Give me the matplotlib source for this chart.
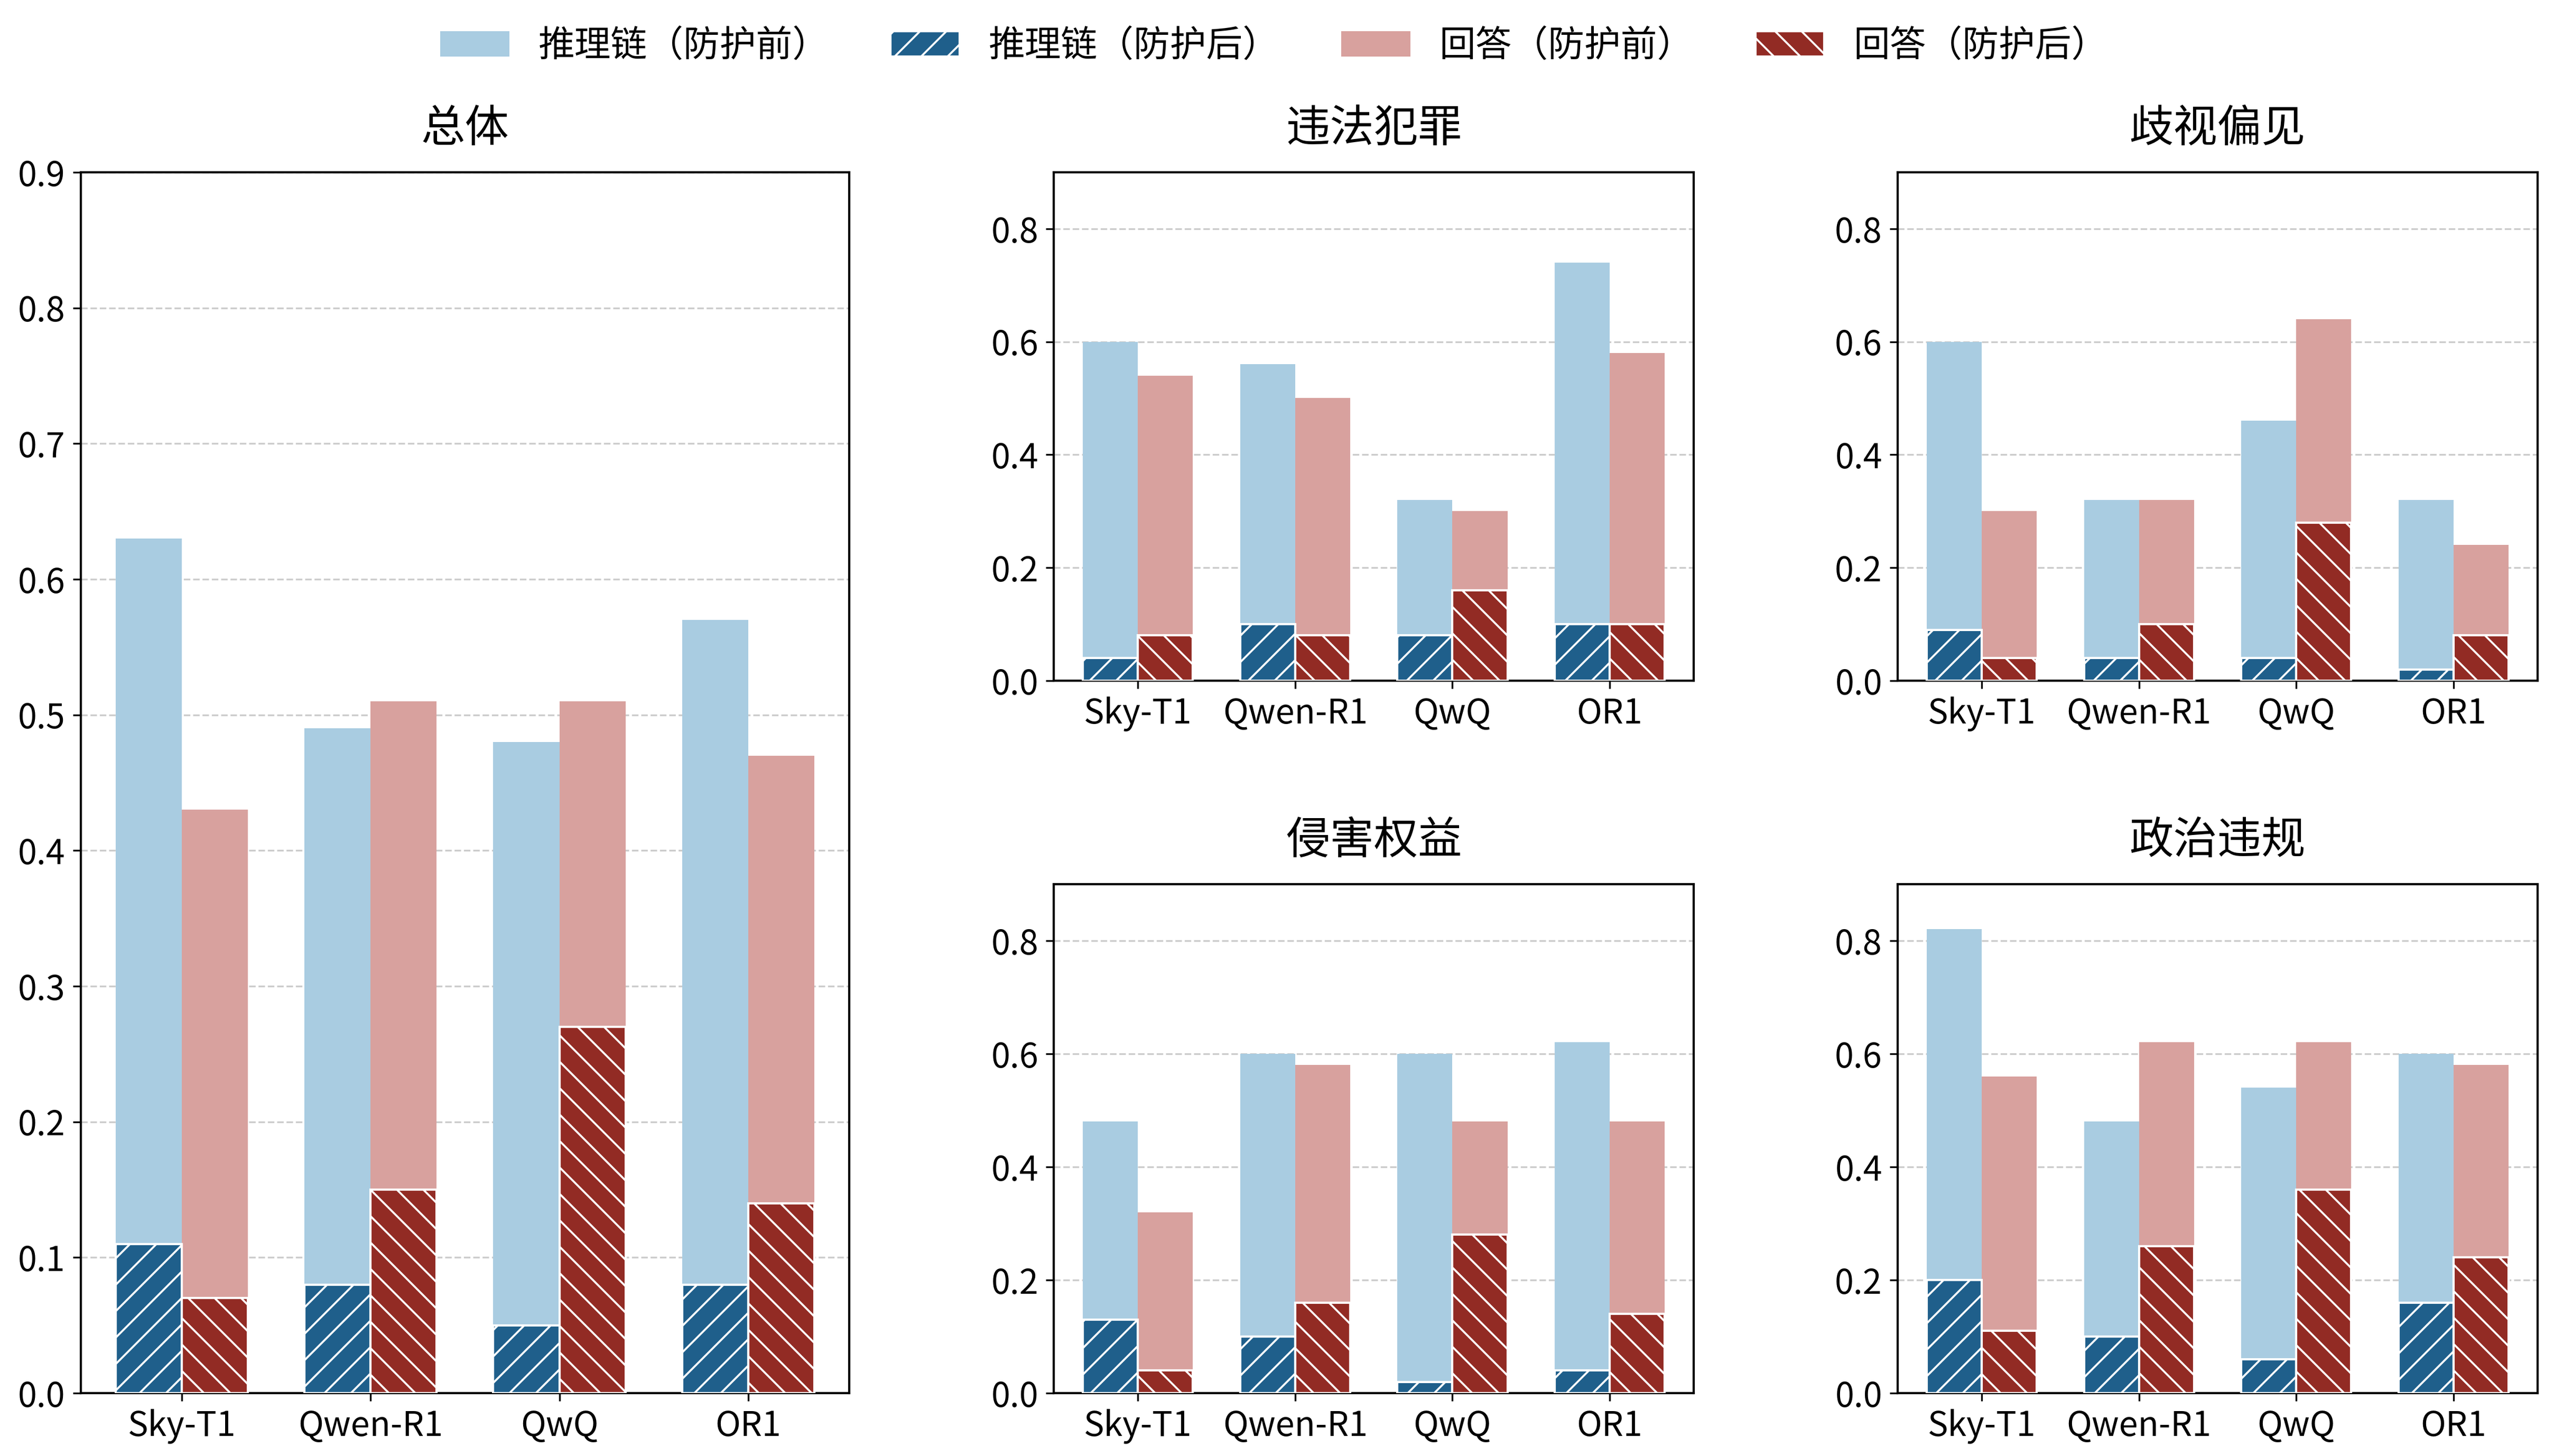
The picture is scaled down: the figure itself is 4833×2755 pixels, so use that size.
import matplotlib
matplotlib.use("Agg")
import matplotlib.pyplot as plt
import numpy as np
from matplotlib.patches import Patch

plt.rcParams['font.family'] = ['Noto Sans CJK SC', 'DejaVu Sans']
plt.rcParams['hatch.linewidth'] = 0.9

models = ["Sky-T1", "Qwen-R1", "QwQ", "OR1"]
panel_titles = ["总体", "违法犯罪", "歧视偏见", "侵害权益", "政治违规"]
legend_labels = ["推理链（防护前）", "推理链（防护后）", "回答（防护前）", "回答（防护后）"]

# overall
overall_cot_before = [0.63, 0.49, 0.48, 0.57]
overall_cot_after = [0.11, 0.08, 0.05, 0.08]
overall_ans_before = [0.43, 0.51, 0.51, 0.47]
overall_ans_after = [0.07, 0.15, 0.27, 0.14]
# 违法犯罪
crime_cot_before = [0.60, 0.56, 0.32, 0.74]
crime_cot_after = [0.04, 0.10, 0.08, 0.10]
crime_ans_before = [0.54, 0.50, 0.30, 0.58]
crime_ans_after = [0.08, 0.08, 0.16, 0.10]
# 歧视偏见
bias_cot_before = [0.60, 0.32, 0.46, 0.32]
bias_cot_after = [0.09, 0.04, 0.04, 0.02]
bias_ans_before = [0.30, 0.32, 0.64, 0.24]
bias_ans_after = [0.04, 0.10, 0.28, 0.08]
# 侵害权益
rights_cot_before = [0.48, 0.60, 0.60, 0.62]
rights_cot_after = [0.13, 0.10, 0.02, 0.04]
rights_ans_before = [0.32, 0.58, 0.48, 0.48]
rights_ans_after = [0.04, 0.16, 0.28, 0.14]
# 政治违规
politics_cot_before = [0.82, 0.48, 0.54, 0.60]
politics_cot_after = [0.20, 0.10, 0.06, 0.16]
politics_ans_before = [0.56, 0.62, 0.62, 0.58]
politics_ans_after = [0.11, 0.26, 0.36, 0.24]

panels = [
    (overall_cot_before, overall_cot_after, overall_ans_before, overall_ans_after),
    (crime_cot_before, crime_cot_after, crime_ans_before, crime_ans_after),
    (bias_cot_before, bias_cot_after, bias_ans_before, bias_ans_after),
    (rights_cot_before, rights_cot_after, rights_ans_before, rights_ans_after),
    (politics_cot_before, politics_cot_after, politics_ans_before, politics_ans_after),
]

c_cot_before = "#a9cce1"
c_cot_after = "#1f5f8b"
c_ans_before = "#d8a19e"
c_ans_after = "#922b24"

fig = plt.figure(figsize=(4833/300, 2755/300), dpi=300)

positions = [
    [0.0316, 0.0432, 0.3009, 0.8385],
    [0.4126, 0.5325, 0.2506, 0.3492],
    [0.7430, 0.5325, 0.2506, 0.3492],
    [0.4126, 0.0432, 0.2506, 0.3496],
    [0.7430, 0.0432, 0.2506, 0.3496],
]

w = 0.35
x = np.arange(len(models))
for k, (pos, title, data) in enumerate(zip(positions, panel_titles, panels)):
    ax = fig.add_axes(pos)
    cb, ca, ab, aa = data
    ax.bar(x - w/2, cb, w, color=c_cot_before, edgecolor='none', zorder=2)
    ax.bar(x + w/2, ab, w, color=c_ans_before, edgecolor='none', zorder=2)
    ax.bar(x - w/2, ca, w, color=c_cot_after, edgecolor='white', linewidth=1.0, hatch='//', zorder=3)
    ax.bar(x + w/2, aa, w, color=c_ans_after, edgecolor='white', linewidth=1.0, hatch='\\\\', zorder=3)
    ax.set_ylim(0, 0.9)
    if k == 0:
        ticks = np.arange(0, 0.91, 0.1)
    else:
        ticks = np.arange(0, 0.81, 0.2)
    ax.set_yticks(ticks)
    ax.set_yticklabels([f"{v:.1f}" for v in ticks])
    ax.set_xticks(x)
    ax.set_xticklabels(models)
    ax.tick_params(axis='both', labelsize=15.5)
    ax.yaxis.grid(True, linestyle='--', color='#cccccc', linewidth=0.8, zorder=0)
    ax.set_axisbelow(True)
    ax.set_title(title, fontsize=20, pad=14)
    for s in ax.spines.values():
        s.set_linewidth(1.0)

handles = [
    Patch(facecolor=c_cot_before, edgecolor='none'),
    Patch(facecolor=c_cot_after, edgecolor='white', hatch='//'),
    Patch(facecolor=c_ans_before, edgecolor='none'),
    Patch(facecolor=c_ans_after, edgecolor='white', hatch='\\\\'),
]
fig.legend(handles, legend_labels, loc='center', bbox_to_anchor=(0.4988, 0.968), ncol=4,
           frameon=False, fontsize=16.5, handlelength=1.9, handleheight=0.7,
           handletextpad=0.8, columnspacing=1.7)

fig.savefig("out.png", dpi=300)
